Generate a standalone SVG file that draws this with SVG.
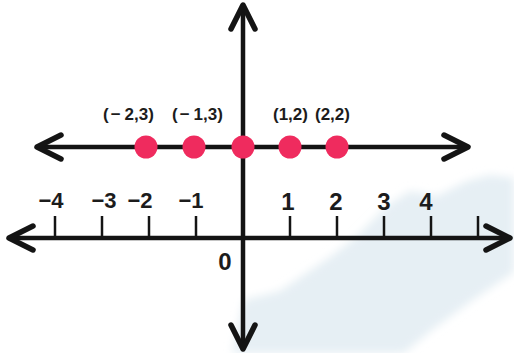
<svg xmlns="http://www.w3.org/2000/svg" width="514" height="353" viewBox="0 0 514 353">
  <style>
    .axis { stroke: #141414; stroke-width: 4.5; fill: none; }
    .tick { stroke: #141414; stroke-width: 2.5; }
    .dot { fill: #ef2b5e; }
    .lbl { font-family: "Liberation Sans", Arial, sans-serif; font-weight: bold; fill: #1c1c1c; }
    .num { font-size: 24px; text-anchor: middle; }
    .neg { font-size: 22px; text-anchor: middle; }
    .pt { font-size: 17px; }
  </style>
  <defs>
    <marker id="chev" markerUnits="userSpaceOnUse" markerWidth="40" markerHeight="40" refX="0" refY="0" viewBox="-30 -20 40 40" orient="auto-start-reverse" overflow="visible">
      <path d="M-24,-12 L0,0 L-24,12" fill="none" stroke="#141414" stroke-width="5.5" stroke-linecap="round" stroke-linejoin="round"/>
    </marker>
    <filter id="soft" x="-10%" y="-10%" width="120%" height="120%">
      <feGaussianBlur stdDeviation="4"/>
    </filter>
  </defs>
  <rect width="514" height="353" fill="#ffffff"/>
  <path id="watermark" d="M232,353 L244,300 L280,291 L308,272 L330,257 L355,238 L388,205 L410,191 L437,196 L467,181 L490,175 L514,178 L514,272 L470,302 L432,330 L404,353 Z" fill="#e6eff4" filter="url(#soft)"/>
  <g id="connectors">
    <line id="y-axis" class="axis" x1="243" y1="5" x2="243" y2="349" marker-start="url(#chev)" marker-end="url(#chev)"/>
    <line id="x-axis" class="axis" x1="9" y1="238" x2="510" y2="238" marker-start="url(#chev)" marker-end="url(#chev)"/>
    <line id="line-y-const" class="axis" x1="37" y1="147" x2="468" y2="147" marker-start="url(#chev)" marker-end="url(#chev)"/>
  </g>
  <g id="ticks">
    <line class="tick" x1="55" y1="216" x2="55" y2="238"/>
    <line class="tick" x1="102" y1="216" x2="102" y2="238"/>
    <line class="tick" x1="149" y1="216" x2="149" y2="238"/>
    <line class="tick" x1="196" y1="216" x2="196" y2="238"/>
    <line class="tick" x1="290" y1="216" x2="290" y2="238"/>
    <line class="tick" x1="337" y1="216" x2="337" y2="238"/>
    <line class="tick" x1="384" y1="216" x2="384" y2="238"/>
    <line class="tick" x1="431" y1="216" x2="431" y2="238"/>
    <line class="tick" x1="478" y1="216" x2="478" y2="238"/>
  </g>
  <g id="tick-labels" class="lbl">
    <text class="neg" x="51" y="208">−4</text>
    <text class="neg" x="104" y="208">−3</text>
    <text class="neg" x="140" y="208">−2</text>
    <text class="neg" x="191" y="208">−1</text>
    <text class="num" x="288" y="210">1</text>
    <text class="num" x="336" y="210">2</text>
    <text class="num" x="384" y="210">3</text>
    <text class="num" x="426" y="210">4</text>
    <text class="num" x="225" y="270">0</text>
  </g>
  <g id="p-m2-3">
    <circle class="dot" cx="146" cy="147" r="11.5"/>
    <text class="lbl pt" x="103" y="120">(<tspan dx="2">−</tspan><tspan dx="4">2,3)</tspan></text>
  </g>
  <g id="p-m1-3">
    <circle class="dot" cx="194" cy="147" r="11.5"/>
    <text class="lbl pt" x="172" y="120">(<tspan dx="2">−</tspan><tspan dx="4">1,3)</tspan></text>
  </g>
  <g id="p-0">
    <circle class="dot" cx="243" cy="147" r="11.5"/>
  </g>
  <g id="p-1-2">
    <circle class="dot" cx="290" cy="147" r="11.5"/>
    <text class="lbl pt" x="273" y="120">(1,2)</text>
  </g>
  <g id="p-2-2">
    <circle class="dot" cx="337" cy="147" r="11.5"/>
    <text class="lbl pt" x="315" y="120">(2,2)</text>
  </g>
</svg>
